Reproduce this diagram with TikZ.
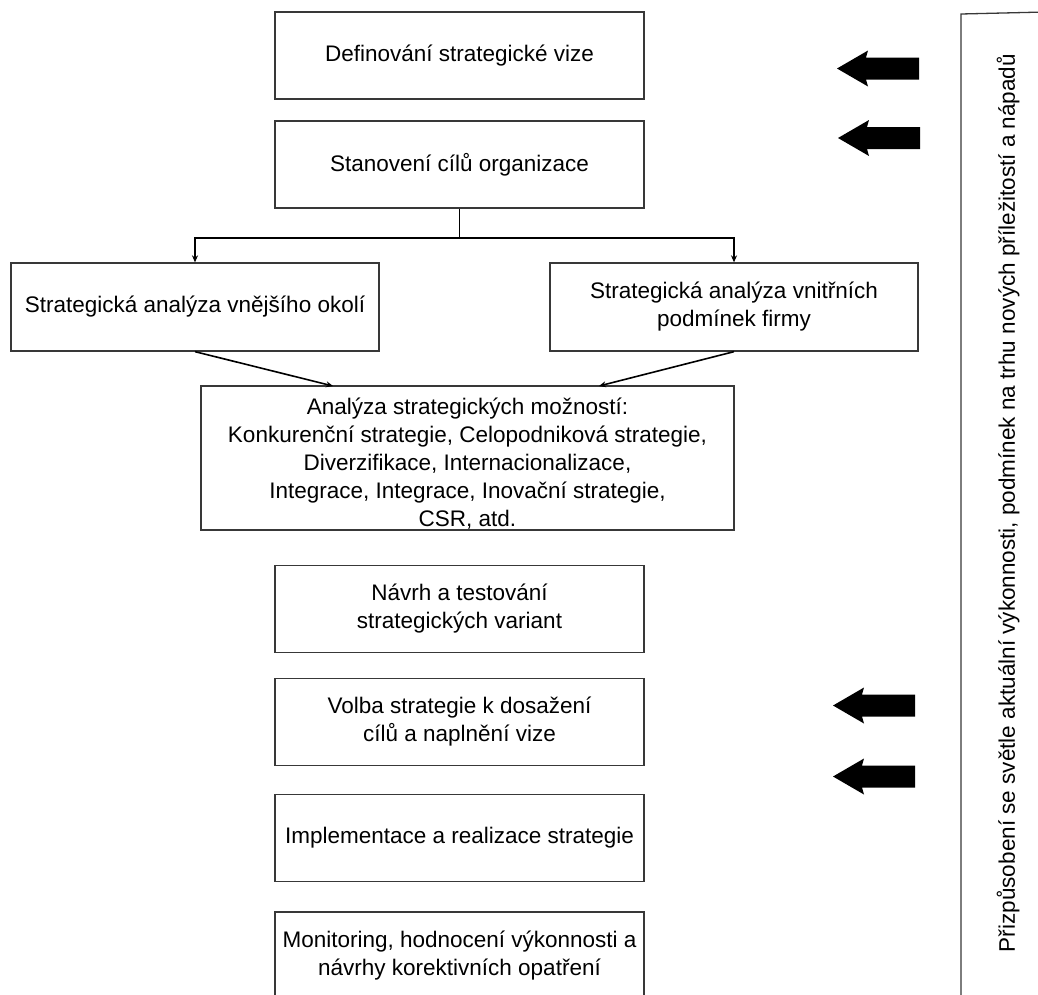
\documentclass[tikz,border=0pt]{standalone}
\usepackage{fontspec}
\setmainfont{Liberation Sans}
\usetikzlibrary{arrows.meta,calc}
\tikzset{
  box/.style={draw=black!78, line width=1.3pt, rectangle, align=center, inner sep=0pt,
    minimum width=369pt, minimum height=87pt, font=\fontsize{22.5}{28}\selectfont},
  conn/.style={draw=black, line width=1.6pt, -{Stealth[length=7pt,width=6pt]}},
  plainconn/.style={draw=black, line width=1.6pt},
  blockarrow/.style={fill=black},
  frame/.style={draw=black!78, line width=1.3pt}
}
\begin{document}
\begin{tikzpicture}[x=1pt,y=-1pt]
\useasboundingbox (0,0) rectangle (1038,994);
\fill[white] (0,0) rectangle (1038,994);

\node[box] (b1) at (459.5,55.5) {Definování strategické vize};
\node[box] (b2) at (459.5,164.5) {Stanovení cílů organizace};
\node[box, minimum width=368pt, minimum height=88pt] (b3) at (195,307) {Strategická analýza vnějšího okolí};
\node[box, minimum width=368pt, minimum height=88pt] (b4) at (734,307) {Strategická analýza vnitřních\\podmínek firmy};
\node[box, minimum width=533pt, minimum height=144pt, font=\fontsize{22.5}{28.2}\selectfont] (b5) at (467.5,458) {\rule{0pt}{28pt}Analýza strategických možností:\\Konkurenční strategie, Celopodniková strategie,\\Diverzifikace, Internacionalizace,\\Integrace, Integrace, Inovační strategie,\\CSR, atd.};
\node[box] (b6) at (459.5,609) {Návrh a testování\\strategických variant};
\node[box] (b7) at (459.5,722) {Volba strategie k dosažení\\cílů a naplnění vize};
\node[box] (b8) at (459.5,838) {Implementace a realizace strategie};
\node[box, minimum height=88pt] (b9) at (459.5,956) {Monitoring, hodnocení výkonnosti a\\návrhy korektivních opatření};

% connectors
\coordinate (j) at (459.5,238);
\draw[plainconn] (b2.south) -- (j);
\draw[conn] (j) -| (b3.north);
\draw[conn] (j) -| (b4.north);
\coordinate (d1) at (333,386);
\coordinate (d2) at (599,386);
\draw[conn] (b3.south) -- (d1);
\draw[conn] (b4.south) -- (d2);

% block arrows
\foreach \tx/\cy in {837/68.5, 838/138, 833/705.5, 833/776.5}{
  \fill[blockarrow] (\tx,\cy) -- (\tx+31,\cy-18) -- (\tx+29,\cy-11) -- (\tx+82,\cy-11)
    -- (\tx+82,\cy+11) -- (\tx+29,\cy+11) -- (\tx+31,\cy+18) -- cycle;
}

% right frame
\draw[frame] (1045,12) -- (961,14) -- (961,1000);
\node[rotate=90, font=\fontsize{22.5}{27}\selectfont, inner sep=0pt] (side) at (1008,503)
  {Přizpůsobení se světle aktuální výkonnosti, podmínek na trhu nových příležitostí a nápadů};
\end{tikzpicture}
\end{document}
